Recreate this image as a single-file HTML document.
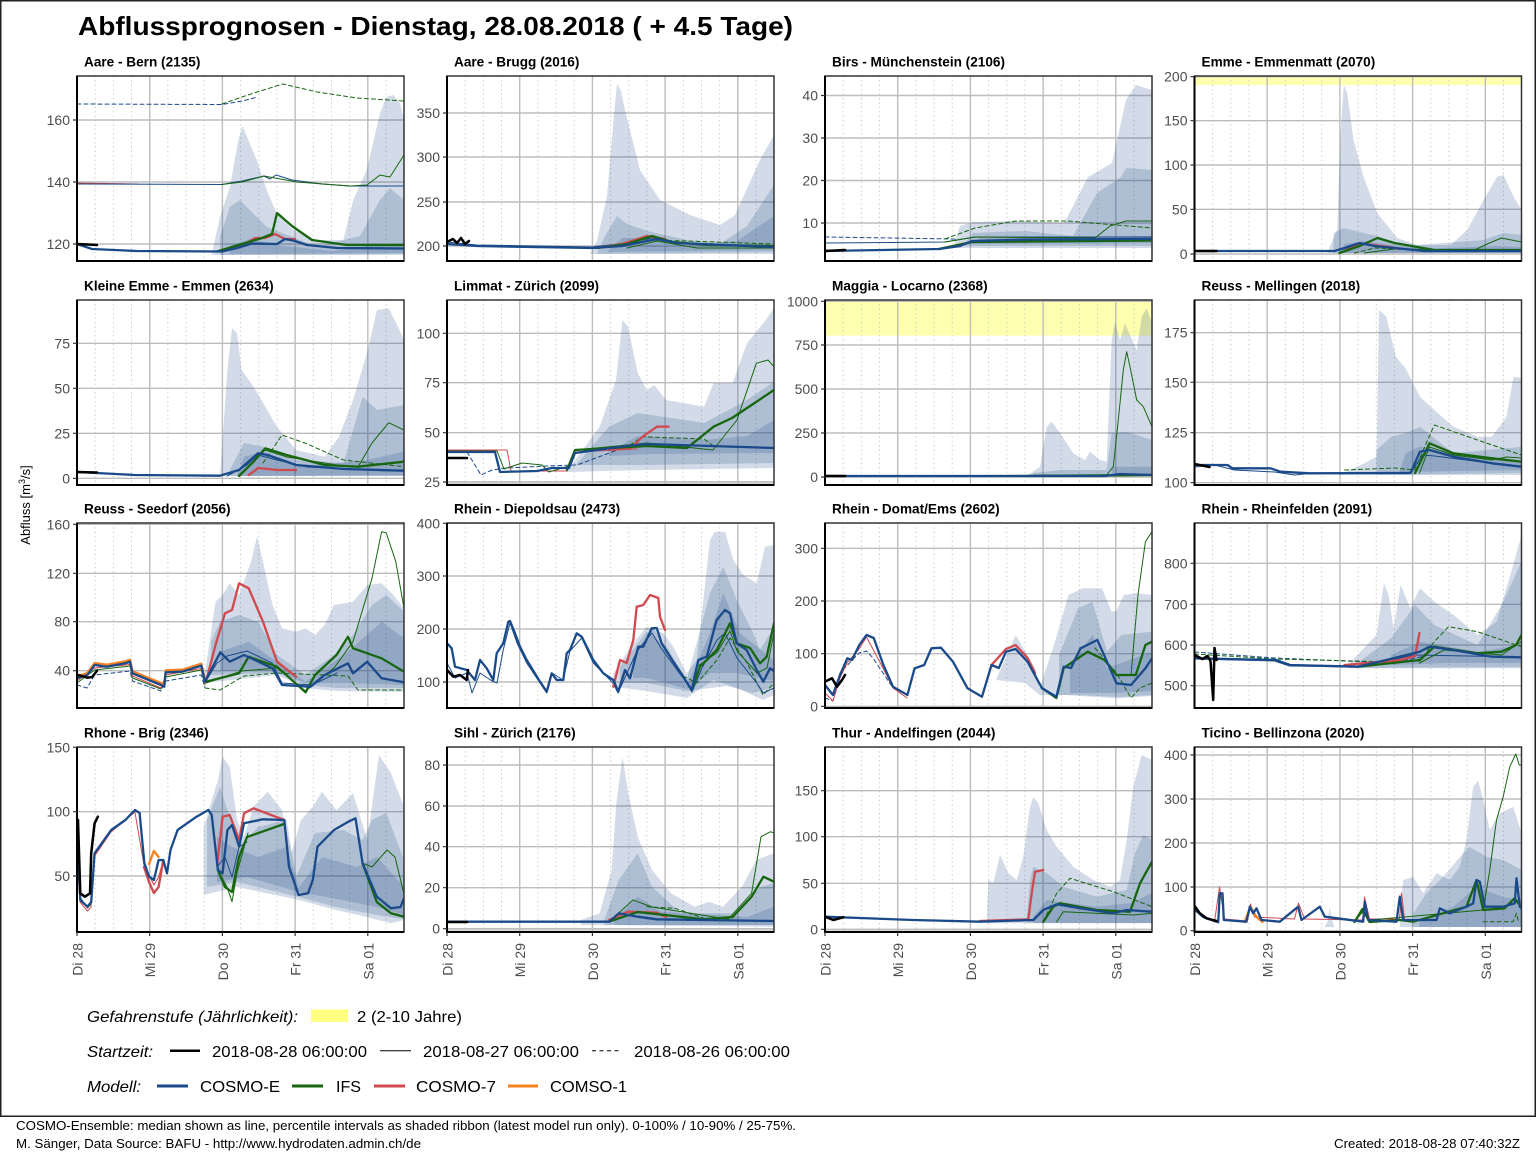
<!DOCTYPE html>
<html><head><meta charset="utf-8"><style>
body{margin:0;background:#fff}
svg{display:block}
text{font-family:"Liberation Sans",Arial,sans-serif}
.yl{font-size:14px;fill:#4d4d4d;text-anchor:end}
.xl{font-size:14px;fill:#4d4d4d;text-anchor:end}
.pt{font-size:13.6px;font-weight:bold;fill:#000}
.rb{fill:#1f4a87;fill-opacity:.2;stroke:none}
.hg{stroke:#bdbdbd;stroke-width:1.4;fill:none}
.vg{stroke:#bdbdbd;stroke-width:1.4;fill:none}
.mg{stroke:#c4c4c4;stroke-width:1;stroke-dasharray:1.2 3.2;fill:none}
.ln path{fill:none;stroke-linejoin:round;stroke-linecap:round}
.B{stroke:#1b4a8a;stroke-width:2.3}
.Bt{stroke:#1b4a8a;stroke-width:1}
.Bd{stroke:#1b4a8a;stroke-width:1;stroke-dasharray:4 3}
.G{stroke:#17660f;stroke-width:2.3}
.Gt{stroke:#17660f;stroke-width:1}
.Gd{stroke:#17660f;stroke-width:1;stroke-dasharray:4 3}
.R{stroke:#d0494f;stroke-width:2.3}
.Rt{stroke:#d0494f;stroke-width:1}
.O{stroke:#f58220;stroke-width:2.3}
.K{stroke:#000;stroke-width:2.5}
.tk{stroke:#333;stroke-width:1.2}
.yb{fill:#ffffb0}
.lg{font-size:16px;fill:#000}
.ft{font-size:12.5px;fill:#000}
.zb{fill:#d9d9d9}
</style></head><body>
<svg width="1536" height="1152" viewBox="0 0 1536 1152" xmlns="http://www.w3.org/2000/svg">
<defs>
<clipPath id="cp"><rect x="0" y="0" width="327" height="185"/></clipPath>
<g id="vgrid">
<path class="mg" d="M18.2,0V185M36.4,0V185M54.5,0V185M90.9,0V185M109.1,0V185M127.2,0V185M163.6,0V185M181.8,0V185M199.9,0V185M236.3,0V185M254.5,0V185M272.6,0V185M309,0V185"/>
<path class="vg" d="M72.7,0V185M145.4,0V185M218.1,0V185M290.8,0V185"/>
</g>
<g id="frame">
<rect x="0" y="0" width="327" height="185" fill="none" stroke="#333" stroke-width="1.5"/>
<path d="M0,0V185H327" fill="none" stroke="#000" stroke-width="2"/>
</g>
<g id="xt"><path class="tk" d="M0,185v4M72.7,185v4M145.4,185v4M218.1,185v4M290.8,185v4"/></g>
</defs>
<rect x="0" y="0" width="1536" height="1152" fill="#fff"/>
<rect x="0.75" y="0.75" width="1534.5" height="1115.5" fill="none" stroke="#222" stroke-width="1.5"/>

<text x="78" y="35" font-size="26" font-weight="bold" textLength="715" lengthAdjust="spacingAndGlyphs">Abflussprognosen - Dienstag, 28.08.2018 ( + 4.5 Tage)</text>

<text transform="translate(30,505) rotate(-90)" font-size="13" text-anchor="middle" fill="#000">Abfluss [m<tspan font-size="9" dy="-5">3</tspan><tspan dy="5">/s]</tspan></text>

<!-- P1 Aare - Bern -->
<g transform="translate(77,76)">
<text class="pt" x="7" y="-9.5">Aare - Bern (2135)</text>
<use href="#vgrid"/>
<path class="hg" d="M0,168H327M0,106H327M0,44H327"/>
<g clip-path="url(#cp)">
<path class="rb" d="M134.7,179L143,140.7L153,110.7L161.3,64L165.7,50L171.3,64L179.7,84L189.7,114L199.7,137.3L216.3,154L239.7,164L266.3,164L276.3,124L289.7,94L303,37.3L309.7,20.7L316.3,19L323,27.3L327,44L327,179Z"/>
<path class="rb" d="M143,179L143,160.7L153,130.7L163,124L176,137.3L189.7,150.7L206,157.3L239.7,170.7L283,160L303,124L313,112.3L327,124L327,178Z"/>
<path class="rb" d="M153,178L153,170L173,163L206,170L256,175L306,168L327,170L327,177Z"/>
<g class="ln">
<path class="Bd" d="M0,28L145,28.5L165,25L181,21"/>
<path class="Gd" d="M145,28L165,21L180,16L206,8L240,16L280,22L327,25"/>
<path class="Rt" d="M0,107L60,108"/>
<path class="Bt" d="M0,108L145,108.5L165,105L187,100L193,103L199,99L215,104L245,108L273,110L327,110"/>
<path class="Gt" d="M145,108.5L165,106L187,100L220,106L273,110L290,109L303,99L313,101L327,79"/>
<path class="R" d="M145,175.5L165,170L178,162L188,162L198,158L208,163L218,163"/>
<path class="G" d="M140,175.5L165,168L185,162L195,158L200,137L215,150L235,164L270,169L327,169"/>
<path class="B" d="M0,168L15,173L60,175L145,175.5L160,172L175,167.5L200,168L208,163L218,165L230,169L260,172L327,172.5"/>
<path class="K" d="M0,168L20,169"/>
</g></g>
<use href="#frame"/>
<path class="tk" d="M-4,168H0M-4,106H0M-4,44H0"/>
<text class="yl" x="-7" y="173">120</text><text class="yl" x="-7" y="111">140</text><text class="yl" x="-7" y="49">160</text>
</g>

<!-- P2 Aare - Brugg -->
<g transform="translate(447,76)">
<text class="pt" x="7" y="-9.5">Aare - Brugg (2016)</text>
<use href="#vgrid"/>
<path class="hg" d="M0,170H327M0,126H327M0,81H327M0,37H327"/>
<g clip-path="url(#cp)">
<path class="rb" d="M143,178L150,165L160,120L166,50L170,8L174,15L178,34L193,94L213,124L243,139L273,149L288,139L313,84L327,59L327,178Z"/>
<path class="rb" d="M150,178L158,160L170,140L180,148L200,155L240,164L273,168L300,150L327,109L327,176Z"/>
<path class="rb" d="M160,176L175,162L200,162L240,168L290,165L327,140L327,174Z"/>
<g class="ln">
<path class="Gd" d="M200,164L240,165L327,168"/>
<path class="Gt" d="M180,172L210,165L250,172L327,172"/>
<path class="Bt" d="M0,166L30,169L145,171L180,167L205,162L240,168L327,170"/>
<path class="R" d="M150,172L175,168L200,160L218,163"/>
<path class="G" d="M150,172L180,168L205,160L225,166L260,169L327,170"/>
<path class="B" d="M0,168L30,170L145,172L175,170L200,165L210,163L230,167L327,171"/>
<path class="K" d="M0,166L6,163L10,167L14,162L18,168L22,165"/>
</g></g>
<use href="#frame"/>
<path class="tk" d="M-4,170H0M-4,126H0M-4,81H0M-4,37H0"/>
<text class="yl" x="-7" y="175">200</text><text class="yl" x="-7" y="131">250</text><text class="yl" x="-7" y="86">300</text><text class="yl" x="-7" y="42">350</text>
</g>

<!-- P3 Birs -->
<g transform="translate(825,76)">
<text class="pt" x="7" y="-9.5">Birs - Münchenstein (2106)</text>
<use href="#vgrid"/>
<path class="hg" d="M0,147H327M0,104.5H327M0,62H327M0,19.5H327"/>
<g clip-path="url(#cp)">
<path class="rb" d="M128,172L135,150L148,146L190,145L239,147L246,134L263,101L287,87L301,24L311,9L327,14L327,172Z"/>
<path class="rb" d="M138,170L148,157L200,155L248,160L272,117L296,101L301,92L327,94L327,170Z"/>
<path class="rb" d="M145,168L155,162L200,161L327,160L327,167Z"/>
<g class="ln">
<path class="Bd" d="M0,161L130,163"/>
<path class="Gd" d="M120,163L150,152L191,145L243,145L327,152"/>
<path class="Bt" d="M0,167L120,166L150,161L327,161"/>
<path class="Gt" d="M120,166L150,161L270,162L285,150L301,145L327,145"/>
<path class="R" d="M114,173L147,166L218,164"/>
<path class="G" d="M114,173L147,166L327,164.5"/>
<path class="B" d="M0,175L114,173L135,170L147,165L200,163.5L327,163"/>
<path class="K" d="M0,175L20,174"/>
</g></g>
<use href="#frame"/>
<path class="tk" d="M-4,147H0M-4,104.5H0M-4,62H0M-4,19.5H0"/>
<text class="yl" x="-7" y="152">10</text><text class="yl" x="-7" y="109.5">20</text><text class="yl" x="-7" y="67">30</text><text class="yl" x="-7" y="24.5">40</text>
</g>

<!-- P4 Emme -->
<g transform="translate(1194.5,76)">
<text class="pt" x="7" y="-9.5">Emme - Emmenmatt (2070)</text>
<rect class="yb" x="0" y="0" width="327" height="9"/>
<use href="#vgrid"/>
<path class="hg" d="M0,178H327M0,133.3H327M0,89H327M0,44.7H327M0,0.7H327"/>
<g clip-path="url(#cp)">
<path class="rb" d="M132.7,177L142.7,154L146,57L149.3,9L152.7,17L159,64L169,100.7L182.7,137L202.7,162L222.7,169L256,169L272.7,154L289,124L302.7,100.7L309,99L319,120.7L327,134L327,177Z"/>
<path class="rb" d="M139,177L139,157L149,152L169,157L183,160L209,170L289,164L309,157L327,159L327,177Z"/>
<path class="rb" d="M145,177L150,168L170,165L190,168L230,173L300,170L327,171L327,177Z"/>
<g class="ln">
<path class="Gd" d="M160,177L180,172L230,174"/>
<path class="Gt" d="M170,177L200,173L280,174L295,167L307,162L327,166"/>
<path class="R" d="M150,175L160,170L170,168L195,171L205,173"/>
<path class="G" d="M145,177L165,170L183,162L200,167L240,174L327,174"/>
<path class="B" d="M0,175L140,175L150,172L165,167L180,170L230,175L327,175"/>
<path class="K" d="M0,175L22,175"/>
</g></g>
<use href="#frame"/>
<path class="tk" d="M-4,178H0M-4,133.3H0M-4,89H0M-4,44.7H0M-4,0.7H0"/>
<text class="yl" x="-7" y="183">0</text><text class="yl" x="-7" y="138.3">50</text><text class="yl" x="-7" y="94">100</text><text class="yl" x="-7" y="49.7">150</text><text class="yl" x="-7" y="5.7">200</text>
</g>

<!-- P5 Kleine Emme -->
<g transform="translate(77,300)">
<text class="pt" x="7" y="-9.5">Kleine Emme - Emmen (2634)</text>
<use href="#vgrid"/>
<path class="hg" d="M0,178.3H327M0,133.3H327M0,88.3H327M0,43.3H327"/>
<g clip-path="url(#cp)">
<path class="rb" d="M143,176L150.4,70L155,28.3L160,33L164.6,70L176.5,86.7L200,126.7L219,150L247.6,156.7L262,136.7L276,100L290,53L300,10L311.7,8.3L321,26.7L327,40L327,176Z"/>
<path class="rb" d="M152.7,176L152.7,170L167,143L186,146.7L219,160L266.6,163L285.6,96.7L300,110L327,105L327,176Z"/>
<path class="rb" d="M160,176L167,156.7L186,151.7L219,166.7L290,160L327,151.7L327,175Z"/>
<g class="ln">
<path class="Gd" d="M186,163L205,135L228.6,143.3L266.6,160L327,166.7"/>
<path class="Bt" d="M150,176L170,165L181,155L200,160L230,167L327,171"/>
<path class="Gt" d="M162,176L178,160L188,150L210,157L260,165L281,167L295,143L311.7,122.7L327,130"/>
<path class="R" d="M171.7,175L178.8,170L181,168L200,170L219,170"/>
<path class="G" d="M162,176L176.5,161.7L188.3,148.3L209.7,155L247.6,165L281,166.7L327,161.7"/>
<path class="B" d="M0,172L58,175L143,175.7L162,170L181,153.3L190.7,155L219,165L266.6,169L327,170.7"/>
<path class="K" d="M0,172L20,172.5"/>
</g></g>
<use href="#frame"/>
<path class="tk" d="M-4,178.3H0M-4,133.3H0M-4,88.3H0M-4,43.3H0"/>
<text class="yl" x="-7" y="183.3">0</text><text class="yl" x="-7" y="138.3">25</text><text class="yl" x="-7" y="93.3">50</text><text class="yl" x="-7" y="48.3">75</text>
</g>

<!-- P6 Limmat -->
<g transform="translate(447,300)">
<text class="pt" x="7" y="-9.5">Limmat - Zürich (2099)</text>
<rect class="zb" x="0" y="181" width="327" height="4"/>
<use href="#vgrid"/>
<path class="hg" d="M0,182H327M0,132.7H327M0,82.7H327M0,33.3H327"/>
<g clip-path="url(#cp)">
<path class="rb" d="M119.6,172L152.7,126.7L169,80L175.5,20L181,26.7L190.7,73.3L200,90L207.3,85L219,100L257,106.7L266.6,83L285.6,83L300,43.3L318.8,20L327,8L327,168L200,170L119.6,172Z"/>
<path class="rb" d="M129,165L162,126.7L190.7,113L257,123L295,103L327,82L327,163L200,165L129,165Z"/>
<path class="rb" d="M162,156L162,152L190.7,136L257,140L300,136L327,120L327,153L200,154L162,156Z"/>
<g class="ln">
<path class="Bd" d="M20,152L34,175L45,170L60,168L100,166L130,165L165,152L180,147"/>
<path class="Gd" d="M183,145L195.5,136.7L230,138L257,139L266.6,146"/>
<path class="Rt" d="M0,150L60,150L64,171L120,171L128,152L190,149"/>
<path class="Gt" d="M0,151L50,151L57,169L75,163L95,165L102,172L122,166L128,150L170,146L200,143L266,150L290,120L309.3,63.3L321,60L327,66.7"/>
<path class="R" d="M162,150L183.6,148.3L195.5,136.7L210,126.7L221.5,126.7"/>
<path class="G" d="M120,170L128,150L200,146L240,148L266.6,126.7L285,118L304.6,105L327,90"/>
<path class="B" d="M0,152L48,152L53,172L90,171L105,168L122,168L128,153L150,150L180,146L200,144L327,148"/>
<path class="K" d="M0,158L20,158"/>
</g></g>
<use href="#frame"/>
<path class="tk" d="M-4,182H0M-4,132.7H0M-4,82.7H0M-4,33.3H0"/>
<text class="yl" x="-7" y="187">25</text><text class="yl" x="-7" y="137.7">50</text><text class="yl" x="-7" y="87.7">75</text><text class="yl" x="-7" y="38.3">100</text>
</g>

<!-- P7 Maggia -->
<g transform="translate(825,300)">
<text class="pt" x="7" y="-9.5">Maggia - Locarno (2368)</text>
<rect class="yb" x="0" y="0" width="327" height="35.7"/>
<use href="#vgrid"/>
<path class="hg" d="M0,177H327M0,133H327M0,89H327M0,45H327M0,1.3H327"/>
<g clip-path="url(#cp)">
<path class="rb" d="M201.7,176L215,166.7L221.7,126.7L226.7,121.7L235,133L248.3,153.3L260,160L265,151.7L275,160L281.7,161.7L286.7,40L290,21.7L295,40L300,23.3L305,35L311.7,50L316.7,16.7L321.7,8.3L327,23.3L327,176Z"/>
<path class="rb" d="M208,176L208,173L235,170L281.7,170L286.7,133L301.7,131.7L327,140L327,176Z"/>
<path class="rb" d="M286.7,176L286.7,166.7L327,166.7L327,176Z"/>
<g class="ln">
<path class="Gt" d="M0,176L281.7,175L288.3,166.7L293.3,120L298.3,70L301.7,51.7L305,66.7L311.7,100L315,103.3L318.3,106.7L327,126.7"/>
<path class="G" d="M200,176L327,175"/>
<path class="B" d="M0,176L280,176L295,174L327,175"/>
<path class="K" d="M0,176L20,176"/>
</g></g>
<use href="#frame"/>
<path class="tk" d="M-4,177H0M-4,133H0M-4,89H0M-4,45H0M-4,1.3H0"/>
<text class="yl" x="-7" y="182">0</text><text class="yl" x="-7" y="138">250</text><text class="yl" x="-7" y="94">500</text><text class="yl" x="-7" y="50">750</text><text class="yl" x="-7" y="6.3">1000</text>
</g>

<!-- P8 Reuss - Mellingen -->
<g transform="translate(1194.5,300)">
<text class="pt" x="7" y="-9.5">Reuss - Mellingen (2018)</text>
<use href="#vgrid"/>
<path class="hg" d="M0,182.7H327M0,132.7H327M0,82.3H327M0,32.7H327"/>
<g clip-path="url(#cp)">
<path class="rb" d="M143.7,175L163,166.7L182,156.7L184.6,10L191.8,16.7L201.4,56.7L211,68.3L225.4,96.7L239.8,110L259,126.7L283,136.7L297.5,136.7L312,116.7L319,76.7L327,78L327,175Z"/>
<path class="rb" d="M182,175L182,150L196.6,136.7L211,133.3L225.4,126.7L259,153.3L327,146.7L327,173Z"/>
<path class="rb" d="M205,172L211,153.3L225.4,146.7L327,163.3L327,170Z"/>
<g class="ln">
<path class="Gd" d="M150,170L200,168L220,170L239.8,125L283,140L327,155"/>
<path class="Bt" d="M0,167L20,165L40,170L60,171L80,172L100,175L120,173L216,173L228,155L240,156L327,167"/>
<path class="Gt" d="M225,173L235,147L259,155L297.5,160L312,157L327,158"/>
<path class="G" d="M220.6,173L235,143.3L259,153.3L297.5,158.3L327,161.7"/>
<path class="B" d="M0,165L33,165L38,168.3L76,168.3L86,171.7L115,173.3L216,173L225.4,151.7L235,150L259,156.7L297.5,163.3L327,166.7"/>
<path class="K" d="M0,164L15,167"/>
</g></g>
<use href="#frame"/>
<path class="tk" d="M-4,182.7H0M-4,132.7H0M-4,82.3H0M-4,32.7H0"/>
<text class="yl" x="-7" y="187.7">100</text><text class="yl" x="-7" y="137.7">125</text><text class="yl" x="-7" y="87.3">150</text><text class="yl" x="-7" y="37.7">175</text>
</g>

<!-- P9 Reuss - Seedorf -->
<g transform="translate(77,523)">
<text class="pt" x="7" y="-9.5">Reuss - Seedorf (2056)</text>
<use href="#vgrid"/>
<path class="hg" d="M0,147.7H327M0,98.7H327M0,50.3H327M0,1.3H327"/>
<g clip-path="url(#cp)">
<path class="rb" d="M126.7,158.7L138.5,78.7L145.6,72L152.7,60.3L162,72L174,38.7L180,13.7L186,38.7L195.5,82L205,105.3L219,108.7L228.6,105.3L238,112L247.6,102L257,82L276,78.7L290.3,62L304.6,60.3L316.4,72L327,85.3L327,168.7L260,168L228.6,165.3L200,152L126.7,160Z"/>
<path class="rb" d="M134,150L134,118.7L143,98.7L162,92L181,98.7L200,132L228.6,152L257,132L276,112L295,82L309.3,72L327,88.7L327,165L260,165L228.6,162L200,150L134,152Z"/>
<path class="rb" d="M143,148L143,128.7L171.7,118.7L200,138.7L228.6,158.7L271,128.7L304.6,98.7L327,115.3L327,162L271,160L228.6,160L200,148Z"/>
<g class="ln">
<path class="Bd" d="M0,162L10,165L17.6,152L53,148L55.5,158L84,168L88.7,158L124.3,152L128,165"/>
<path class="Gd" d="M128,165L143,167L167,153L200,150L271,153L280.8,167L327,167"/>
<path class="Gt" d="M0,160L17.6,147L53,143L55.5,155L84,166L88.7,154L124.3,147L128,162"/>
<path class="Rt" d="M0,158L17.6,145L53,141.5L55.5,153L84,165L88.7,152L124.3,145.5L128,161"/>
<path class="O" d="M0,153.3L10.4,150L17.6,140L29.4,141.7L48.4,138.3L53,136.7L55.5,148.3L84,160L87.3,161.7L88.7,147.3L105.3,146.7L124.3,140.7L128,156.7"/>
<path class="Bt" d="M129,158L140,140L150,133L170,128L195,140L205,160L235,162L260,150"/>
<path class="Gt" d="M129,160L165,148L200,145L228.6,168L257,145L276,118.7L295,55.3L304.6,8.7L309.3,10L318.8,38.7L327,85.3"/>
<path class="R" d="M129,158.7L138.5,122L148,90.3L155,87L162,60.3L171.7,65.3L186,98.7L200,138.7L219,153.7"/>
<path class="G" d="M129,158.7L162,150.3L171.7,133.7L200,143.7L228.6,169.3L238,152L259.5,132L271,113.7L276,125.3L304.6,135.3L327,148.7"/>
<path class="B" d="M0,155.3L10.4,152L17.6,142L29.4,143.7L48.4,140.3L53,138.7L55.5,150.3L84,162L87.3,163.7L88.7,149.3L105.3,148.7L124.3,142.7L128,158.7L143.3,129.3L152.7,138.7L167,132L195.5,145.3L205,162L233.4,163.7L247.6,152L271,140.3L276,150.3L290.3,138.7L304.6,155.3L327,159.3"/>
<path class="K" d="M1,152L10.4,154.7L15.2,154L20,147.7"/>
</g></g>
<use href="#frame"/>
<path class="tk" d="M-4,147.7H0M-4,98.7H0M-4,50.3H0M-4,1.3H0"/>
<text class="yl" x="-7" y="152.7">40</text><text class="yl" x="-7" y="103.7">80</text><text class="yl" x="-7" y="55.3">120</text><text class="yl" x="-7" y="6.3">160</text>
</g>

<!-- P10 Rhein - Diepoldsau -->
<g transform="translate(447,523)">
<text class="pt" x="7" y="-9.5">Rhein - Diepoldsau (2473)</text>
<use href="#vgrid"/>
<path class="hg" d="M0,159H327M0,106H327M0,53H327M0,0.3H327"/>
<g clip-path="url(#cp)">
<path class="rb" d="M166.3,163.7L166.3,150.3L186.3,120.3L199.7,103.7L216.3,110.3L226.3,123.7L239.7,150.3L249.7,137L256.3,77L263,17L268,8.7L278,8.7L286.3,37L296.3,52L309.7,60.3L318,23.7L327,22L327,172L316,177L290,165L266.3,157L240,175L200,168Z"/>
<path class="rb" d="M173,160L173,143.7L199.7,108.7L219.7,123.7L239.7,157L263,70.3L276.3,43.7L289.7,77L306.3,110.3L313,127L327,103.7L327,164L306,170L280,163L239.7,168L200,160Z"/>
<path class="rb" d="M186,155L186,135L206,103.7L239.7,163.7L263,110.3L276.3,70.3L293,110.3L327,137L327,158L290,150L263,150L239.7,166L200,155Z"/>
<g class="ln">
<path class="Gd" d="M236,153L250,160L270,137L283,115L300,140L316,172L327,160"/>
<path class="Bt" d="M0,140L8,155L20,150L25,170L33,150L45,158L50,160L56,128L63,100L70,120L79.7,140L93,160L99.7,170L105,150L116,157L123,128L134.7,115L146.3,140L166,160L171,170L180,150L190,128L205,110L214,125L236,155L245,169L255,145L270,117L278,110L290,135L309.7,160L316.3,170L327,165"/>
<path class="Gt" d="M251,143L269.7,130L283,108L290,128L310,150L320,145L327,110"/>
<path class="R" d="M166.3,163.7L173,137L179.7,140L186.3,117L189.7,83.7L196.3,82L203,72L211.3,75L213,93.7L218,107"/>
<path class="G" d="M244.7,167L253,143.7L269.7,127L283,100.3L289.7,120.3L303,125L313,140.3L319.7,133.7L327,100.3"/>
<path class="B" d="M0,120.3L4.7,125.3L8,143.7L19.7,147L28,157L33,137L39.7,145.3L46.3,157L49.7,130.3L56.3,120.3L61.3,98.7L63,98L68,110.3L73,123.7L79.7,137L93,158.7L99.7,168.7L104.7,150.3L109.7,157L116.3,157L119.7,130.3L123,127L129.7,110.3L134.7,113.7L139.7,123.7L146.3,137L156.3,150.3L166.3,157L171.3,168.7L178,147L183,155.3L191.3,123.7L196.3,123.7L204.7,105.3L209.7,105L214.7,120.3L226.3,138.7L236.3,153.7L244.7,167L251.3,137L259.7,133.7L269.7,97L278,87L283,90.3L289.7,120.3L299.7,127L309.7,147L316.3,158.7L323,145.3L327,148"/>
<path class="K" d="M0,147L6.3,153.7L13,152L19.7,157L21,147"/>
</g></g>
<use href="#frame"/>
<path class="tk" d="M-4,159H0M-4,106H0M-4,53H0M-4,0.3H0"/>
<text class="yl" x="-7" y="164">100</text><text class="yl" x="-7" y="111">200</text><text class="yl" x="-7" y="58">300</text><text class="yl" x="-7" y="5.3">400</text>
</g>

<!-- P11 Rhein - Domat/Ems -->
<g transform="translate(825,523)">
<text class="pt" x="7" y="-9.5">Rhein - Domat/Ems (2602)</text>
<use href="#vgrid"/>
<path class="hg" d="M0,183.3H327M0,130.7H327M0,78H327M0,25.3H327"/>
<g clip-path="url(#cp)">
<path class="rb" d="M171,157L190.6,112L209.8,145L214.6,165.3L229,122L243.5,72L258,65.3L277,65.3L286.7,88.7L291.5,88L298.8,72L310.8,70.3L327,72L327,173L291.5,175.3L240,172L214.6,172L200,160Z"/>
<path class="rb" d="M234,172L234,132L253,85.3L267.5,78.7L282,128.7L296.3,112L327,108.7L327,172L296,174L250,172Z"/>
<path class="rb" d="M245,170L245,140L267.5,112L282,145.3L327,128.7L327,168L290,170Z"/>
<g class="ln">
<path class="Gd" d="M270,125L291.5,150L306,175L315,165L327,160"/>
<path class="Bd" d="M0,175L8,178L15,150L34,130L41.5,128L48,135L68,165"/>
<path class="Rt" d="M0,170L8,178L15,155L22,140L34,126L41.5,114L58,145L68,165L82,175"/>
<path class="Gt" d="M291,152L306,152L313,72L320.4,18.7L327,8.7"/>
<path class="R" d="M166.5,142L181,126L190.6,122L202.6,135L210,150"/>
<path class="G" d="M217,165L231.4,175L238.7,145L262.7,128.7L279.5,137L291.5,152L310.8,152L320.4,122L327,118.7"/>
<path class="B" d="M0,162L7.9,172L15,152L22.3,135.3L27,137L34.3,122L41.5,112L48.75,115L58.4,142L68,163.7L82.4,172L89.6,145.3L99.2,142L106.4,125.3L116,124.7L128,138.7L142.5,165.3L157,173.7L166.5,142L173.8,145L181,128.7L190.6,126L202.6,138.7L217,165.3L231.4,173.7L238.7,143.7L246,145L255.5,125.3L272.3,117L282,138.7L291.5,160.3L306,162L320.4,145.3L327,135.3"/>
<path class="K" d="M0,158.7L7,155.3L12,163.7L17,157L20,152"/>
</g></g>
<use href="#frame"/>
<path class="tk" d="M-4,183.3H0M-4,130.7H0M-4,78H0M-4,25.3H0"/>
<text class="yl" x="-7" y="188.3">0</text><text class="yl" x="-7" y="135.7">100</text><text class="yl" x="-7" y="83">200</text><text class="yl" x="-7" y="30.3">300</text>
</g>

<!-- P12 Rhein - Rheinfelden -->
<g transform="translate(1194.5,523)">
<text class="pt" x="7" y="-9.5">Rhein - Rheinfelden (2091)</text>
<use href="#vgrid"/>
<path class="hg" d="M0,162.7H327M0,122H327M0,81.3H327M0,40.3H327"/>
<g clip-path="url(#cp)">
<path class="rb" d="M153.3,145.3L153.3,142L182,112L189.4,60.3L194,72L199,105.3L206.2,62L215.8,85.3L225.4,65.3L239.8,78.7L259,92L283,112L302,98.7L316.8,48.7L327,12L327,145.3Z"/>
<path class="rb" d="M163,145L163,140L196.6,115.3L220.6,82L239.8,102L283,122L307,82L327,38.7L327,144Z"/>
<path class="rb" d="M196.6,142L196.6,132L225.4,118.7L283,128.7L327,122L327,140L250,140Z"/>
<g class="ln">
<path class="Bd" d="M0,129L80,135L200,140L230,133"/>
<path class="Gd" d="M0,131L80,136L200,139L225.4,138L239.8,118.7L254,103.7L283,108.7L327,123.7"/>
<path class="Bt" d="M0,136L80,138L95,143L163,144L220,132L327,134"/>
<path class="Gt" d="M225,140L249.5,127L307,132L327,118.7"/>
<path class="R" d="M150,142L206,137L220.6,133L225,110"/>
<path class="G" d="M163,143.7L225.4,137L239.8,123.7L283,130.3L307,128.7L321.6,122L327,112"/>
<path class="B" d="M0,135.3L81.2,137L95.6,142L163,143.7L191.8,137L225.4,128.7L235,123.7L259,127L297.5,133.7L327,134.3"/>
<path class="K" d="M0,132L8,136L13,133L16,138L18.7,177L20,125L22,137"/>
</g></g>
<use href="#frame"/>
<path class="tk" d="M-4,162.7H0M-4,122H0M-4,81.3H0M-4,40.3H0"/>
<text class="yl" x="-7" y="167.7">500</text><text class="yl" x="-7" y="127">600</text><text class="yl" x="-7" y="86.3">700</text><text class="yl" x="-7" y="45.3">800</text>
</g>

<!-- P13 Rhone - Brig -->
<g transform="translate(77,747)">
<text class="pt" x="7" y="-9.5">Rhone - Brig (2346)</text>
<use href="#vgrid"/>
<path class="hg" d="M0,129H327M0,64.7H327M0,0.3H327"/>
<g clip-path="url(#cp)">
<path class="rb" d="M126.7,148L126.7,79.7L140.9,33L145.6,9.7L152.7,19.7L160,73L167,89.7L176.5,59.7L190.7,44.7L205,63L214.4,106.3L224,73L235.8,59.7L245,44.7L259.5,63L276,46.3L290.3,93L302,8L314,26.3L327,59.7L327,173L314,176.3L290,170L259,163L222,153L160,140Z"/>
<path class="rb" d="M130,140L130,73L143,39.7L162,99.7L181,80L209.7,73L219,130L238,86L266.6,83L285.6,93L295,73L309.3,66L327,113L327,172L300,168L259,160L222,150L160,135Z"/>
<path class="rb" d="M140,135L140,90L155,100L181,110L209,100L222,140L245,110L280,120L300,110L327,140L327,168L300,160L260,152L222,145L170,130Z"/>
<g class="ln">
<path class="Rt" d="M0,110L3,155L10.4,164L14,160L17,110L34,85L57.9,65L67,118L76.9,138L81.6,130L86.3,113"/>
<path class="Gt" d="M0,105L3,150L10.4,161L14,157L17,108"/>
<path class="Gt" d="M140.9,123L150,140L155,154.7L160,126L171,86"/>
<path class="Gt" d="M285,116L295,120L310,103L318,110L327,147"/>
<path class="Bt" d="M140,120L148,110L155,130L162,100L170,95"/>
<path class="R" d="M67,120L72,135L76.9,146L81.6,140L86.3,113"/>
<path class="O" d="M72,117L76.9,104L81.6,110"/>
<path class="R" d="M140,118L145.6,69.7L152.7,68L162.2,93L167,66.3L176.5,61.3L207.3,73"/>
<path class="G" d="M140.9,123L148,140L155,145L162,110L170,90L207,77"/>
<path class="G" d="M285.6,116.3L299.8,155L314,166.3L327,169.7"/>
<path class="B" d="M1,100L3.3,153L10.4,159.7L14.2,155L17.6,106.3L22.3,99.7L34.2,83L48.4,73L57.9,63L62.6,66L67.4,116.3L72.1,129.7L76.9,133L81.6,113L86.3,113L90,126.3L93.5,103L100.6,83L119.5,69.7L131.4,63L134.7,68L140.9,123L145.6,126.3L150.4,83L155,78L162.2,99.7L167,76.3L186,72.3L207.3,73L212,119.7L221.5,148L231,146.3L235.8,133L240.5,99.7L257,83L271.3,74.7L278.5,71.3L285.6,116.3L299.8,149.7L314,161.3L323.5,160L327,151.3"/>
<path class="K" d="M1,73L3.3,146.3L8,149.7L13,146.3L14.2,106.3L17.6,76.3L20.9,69.7"/>
</g></g>
<use href="#frame"/>
<use href="#xt"/>
<path class="tk" d="M-4,129H0M-4,64.7H0M-4,0.3H0"/>
<text class="yl" x="-7" y="134">50</text><text class="yl" x="-7" y="69.7">100</text><text class="yl" x="-7" y="5.3">150</text>
</g>

<!-- P14 Sihl -->
<g transform="translate(447,747)">
<text class="pt" x="7" y="-9.5">Sihl - Zürich (2176)</text>
<rect class="zb" x="0" y="181" width="327" height="4"/>
<use href="#vgrid"/>
<path class="hg" d="M0,181.7H327M0,140.7H327M0,99.7H327M0,59H327M0,18H327"/>
<g clip-path="url(#cp)">
<path class="rb" d="M133.8,178L133.8,173L152.7,166.3L164.6,123L169.4,56.3L175.5,9.7L181.2,46.3L190.7,89.7L205,123L224,146.3L247.6,159.7L261.9,154.7L276,159.7L295,139.7L309.3,113L327,106.3L327,179.7Z"/>
<path class="rb" d="M157.5,178L157.5,172L171.7,133L190.7,106.3L205,139.7L233.4,166.3L285.6,166.3L314,139.7L327,136.3L327,178Z"/>
<path class="rb" d="M167,178L167,173L190.7,149.7L214,164.7L300,170L327,159.7L327,178Z"/>
<g class="ln">
<path class="Gd" d="M200,159.7L228,161.3L257,171.3"/>
<path class="Gt" d="M162,174.7L186,153L205,160L281,172.3L304.6,146.3L314,89.7L323.6,84.7L327,86"/>
<path class="R" d="M162,173L181,164.7L209.7,165.7L219,170"/>
<path class="G" d="M162,174.7L190.7,165L257,172.3L285.6,170L304.6,149.7L316.4,129.7L327,134.7"/>
<path class="B" d="M0,174.7L162.2,174.7L171.7,166.3L190.7,169.7L209.7,172.3L327,174"/>
<path class="K" d="M0,175L20,175"/>
</g></g>
<use href="#frame"/>
<use href="#xt"/>
<path class="tk" d="M-4,181.7H0M-4,140.7H0M-4,99.7H0M-4,59H0M-4,18H0"/>
<text class="yl" x="-7" y="186.7">0</text><text class="yl" x="-7" y="145.7">20</text><text class="yl" x="-7" y="104.7">40</text><text class="yl" x="-7" y="64">60</text><text class="yl" x="-7" y="23">80</text>
</g>

<!-- P15 Thur -->
<g transform="translate(825,747)">
<text class="pt" x="7" y="-9.5">Thur - Andelfingen (2044)</text>
<rect class="zb" x="0" y="182" width="327" height="3"/>
<use href="#vgrid"/>
<path class="hg" d="M0,182.3H327M0,136.3H327M0,89.7H327M0,43.7H327"/>
<g clip-path="url(#cp)">
<path class="rb" d="M161.7,176.3L161.7,173L163.3,133L168.3,136L175,108L183.3,126.3L191.7,133L198.3,109.7L205,59.7L208.3,50.3L213.3,56.3L221.7,83L231.7,99.7L248.3,119.7L268.3,133L285,139.7L295,133L301.7,93L308.3,39.7L316.7,8L327,13L327,176.3Z"/>
<path class="rb" d="M201.7,176L201.7,173L205,133L208.3,119.7L221.7,126L238.3,139.7L271.7,149.7L301.7,143L310,106.3L318.3,88L327,93L327,176Z"/>
<path class="rb" d="M208.3,176L208.3,170L221.7,153L271.7,159.7L305,156L327,146.3L327,176Z"/>
<g class="ln">
<path class="Gd" d="M218.3,174.7L231.7,146.3L245,131.3L288.3,144.7L327,159.7"/>
<path class="Gt" d="M231.7,174.7L238.3,164.7L308.3,168L327,166.3"/>
<path class="R" d="M155,174L203.3,172.3L206.7,146.3L210,124.7L218.3,123"/>
<path class="G" d="M218.3,174.7L228.3,159.7L235,156.3L271.7,163L305,164.7L315,136.3L327,114.7"/>
<path class="B" d="M0,169.7L88.3,173L155,174.7L208.3,173L218.3,163L231.7,157.3L255,161.3L288.3,166.3L301.7,163L327,164.7"/>
<path class="K" d="M0,169.7L8.3,173L18.3,170.3"/>
</g></g>
<use href="#frame"/>
<use href="#xt"/>
<path class="tk" d="M-4,182.3H0M-4,136.3H0M-4,89.7H0M-4,43.7H0"/>
<text class="yl" x="-7" y="187.3">0</text><text class="yl" x="-7" y="141.3">50</text><text class="yl" x="-7" y="94.7">100</text><text class="yl" x="-7" y="48.7">150</text>
</g>

<!-- P16 Ticino -->
<g transform="translate(1194.5,747)">
<text class="pt" x="7" y="-9.5">Ticino - Bellinzona (2020)</text>
<use href="#vgrid"/>
<path class="hg" d="M0,183.7H327M0,140H327M0,96H327M0,52H327M0,8H327"/>
<g clip-path="url(#cp)">
<path class="rb" d="M130,180L133,175L135,160L138,175L140,180Z"/>
<path class="rb" d="M205.3,180L205.3,173L208.7,133L218.7,130L228.7,146.3L242,126.3L255.3,133L265.3,119.7L272,93L278.7,39.7L283.7,33.7L288.7,53L295.3,83L305.3,66.3L318.7,59.7L327,86.3L327,180Z"/>
<path class="rb" d="M218.7,180L218.7,166.7L232,146.3L248.7,129.7L268.7,106.3L275.3,100L292,109.7L308.7,113L327,123L327,180Z"/>
<path class="rb" d="M225,180L225,173L258.7,159.7L282,140L308.7,150L327,153L327,180Z"/>
<g class="ln">
<path class="Gd" d="M288.7,174.7L318.7,174.7L322,166.3L324,174.7"/>
<path class="Rt" d="M20,175L25,140L30,172L52,174L56,157L60,170L100,172L104,156L110,172L168,173L170,150L175,172L205,172L207,146L210,172"/>
<path class="O" d="M50,175L56,160L62,170L68,175"/>
<path class="Gt" d="M160,175L168,165L175,173L288.7,163L295.3,123L302,73L308.7,49.7L315.3,19.7L321.3,7L324.7,18L327,18"/>
<path class="G" d="M160,175L168,162L175,175L205.3,173L218.7,174.7L272,159.7L282,133L288.7,163L310,161.3L320,151.3L327,160"/>
<path class="B" d="M0.7,163L8.7,170L22,174.7L23.7,175.3L25.3,146.3L28,146.3L29.3,173L52,174.7L55.3,159.7L58.7,166.3L62,161.3L67,173L85.3,174.7L103.7,159.7L107,173L125.3,159.7L130.3,169.7L168.7,174.7L170.3,154.7L173.7,173L202,174.7L205.3,149.7L208.7,173L242,173L245.3,161.3L255.3,166.3L272,159.7L278.7,156.3L282,133L285.3,134.7L290.3,159.7L308.7,159.7L320.3,156.3L322,131.3L325.3,159.7L327,161.3"/>
<path class="K" d="M0.7,159.7L5.3,166.3L12,171.3L22,174"/>
</g></g>
<use href="#frame"/>
<use href="#xt"/>
<path class="tk" d="M-4,183.7H0M-4,140H0M-4,96H0M-4,52H0M-4,8H0"/>
<text class="yl" x="-7" y="188.7">0</text><text class="yl" x="-7" y="145">100</text><text class="yl" x="-7" y="101">200</text><text class="yl" x="-7" y="57">300</text><text class="yl" x="-7" y="13">400</text>
</g>

<!-- X axis labels -->
<g class="xl">
<text transform="translate(82.5,943) rotate(-90)">Di 28</text>
<text transform="translate(155.2,943) rotate(-90)">Mi 29</text>
<text transform="translate(227.9,943) rotate(-90)">Do 30</text>
<text transform="translate(300.6,943) rotate(-90)">Fr 31</text>
<text transform="translate(373.3,943) rotate(-90)">Sa 01</text>
<text transform="translate(452.5,943) rotate(-90)">Di 28</text>
<text transform="translate(525.2,943) rotate(-90)">Mi 29</text>
<text transform="translate(597.9,943) rotate(-90)">Do 30</text>
<text transform="translate(670.6,943) rotate(-90)">Fr 31</text>
<text transform="translate(743.3,943) rotate(-90)">Sa 01</text>
<text transform="translate(830.5,943) rotate(-90)">Di 28</text>
<text transform="translate(903.2,943) rotate(-90)">Mi 29</text>
<text transform="translate(975.9,943) rotate(-90)">Do 30</text>
<text transform="translate(1048.6,943) rotate(-90)">Fr 31</text>
<text transform="translate(1121.3,943) rotate(-90)">Sa 01</text>
<text transform="translate(1200,943) rotate(-90)">Di 28</text>
<text transform="translate(1272.7,943) rotate(-90)">Mi 29</text>
<text transform="translate(1345.4,943) rotate(-90)">Do 30</text>
<text transform="translate(1418.1,943) rotate(-90)">Fr 31</text>
<text transform="translate(1490.8,943) rotate(-90)">Sa 01</text>
</g>

<!-- Legend -->
<text class="lg" x="87" y="1022" font-style="italic" textLength="211" lengthAdjust="spacingAndGlyphs">Gefahrenstufe (Jährlichkeit):</text>
<rect x="311" y="1009.5" width="37" height="12.5" fill="#ffff80"/>
<text class="lg" x="357" y="1022" textLength="105" lengthAdjust="spacingAndGlyphs">2 (2-10 Jahre)</text>

<text class="lg" x="87" y="1057" font-style="italic" textLength="66" lengthAdjust="spacingAndGlyphs">Startzeit:</text>
<path d="M170,1050.7H200" stroke="#000" stroke-width="2.5"/>
<text class="lg" x="212" y="1057" textLength="155" lengthAdjust="spacingAndGlyphs">2018-08-28 06:00:00</text>
<path d="M380,1050.7H411" stroke="#000" stroke-width="1"/>
<text class="lg" x="423" y="1057" textLength="156" lengthAdjust="spacingAndGlyphs">2018-08-27 06:00:00</text>
<path d="M592,1050.7H621" stroke="#000" stroke-width="1" stroke-dasharray="4 3.5"/>
<text class="lg" x="634" y="1057" textLength="156" lengthAdjust="spacingAndGlyphs">2018-08-26 06:00:00</text>

<text class="lg" x="87" y="1092" font-style="italic" textLength="54" lengthAdjust="spacingAndGlyphs">Modell:</text>
<path d="M157,1086H188" stroke="#1b4a8a" stroke-width="3"/>
<text class="lg" x="200" y="1092" textLength="80" lengthAdjust="spacingAndGlyphs">COSMO-E</text>
<path d="M292,1086H323" stroke="#17660f" stroke-width="3"/>
<text class="lg" x="336" y="1092" textLength="25" lengthAdjust="spacingAndGlyphs">IFS</text>
<path d="M374,1086H405" stroke="#d0494f" stroke-width="3"/>
<text class="lg" x="416" y="1092" textLength="80" lengthAdjust="spacingAndGlyphs">COSMO-7</text>
<path d="M508,1086H538" stroke="#f58220" stroke-width="3"/>
<text class="lg" x="550" y="1092" textLength="77" lengthAdjust="spacingAndGlyphs">COMSO-1</text>

<!-- Footer -->
<text class="ft" x="16" y="1130" textLength="780" lengthAdjust="spacingAndGlyphs">COSMO-Ensemble: median shown as line, percentile intervals as shaded ribbon (latest model run only). 0-100% / 10-90% / 25-75%.</text>
<text class="ft" x="16" y="1148" textLength="405" lengthAdjust="spacingAndGlyphs">M. Sänger, Data Source: BAFU - http://www.hydrodaten.admin.ch/de</text>
<text class="ft" x="1334" y="1148" textLength="186" lengthAdjust="spacingAndGlyphs">Created: 2018-08-28 07:40:32Z</text>
</svg>
</body></html>
